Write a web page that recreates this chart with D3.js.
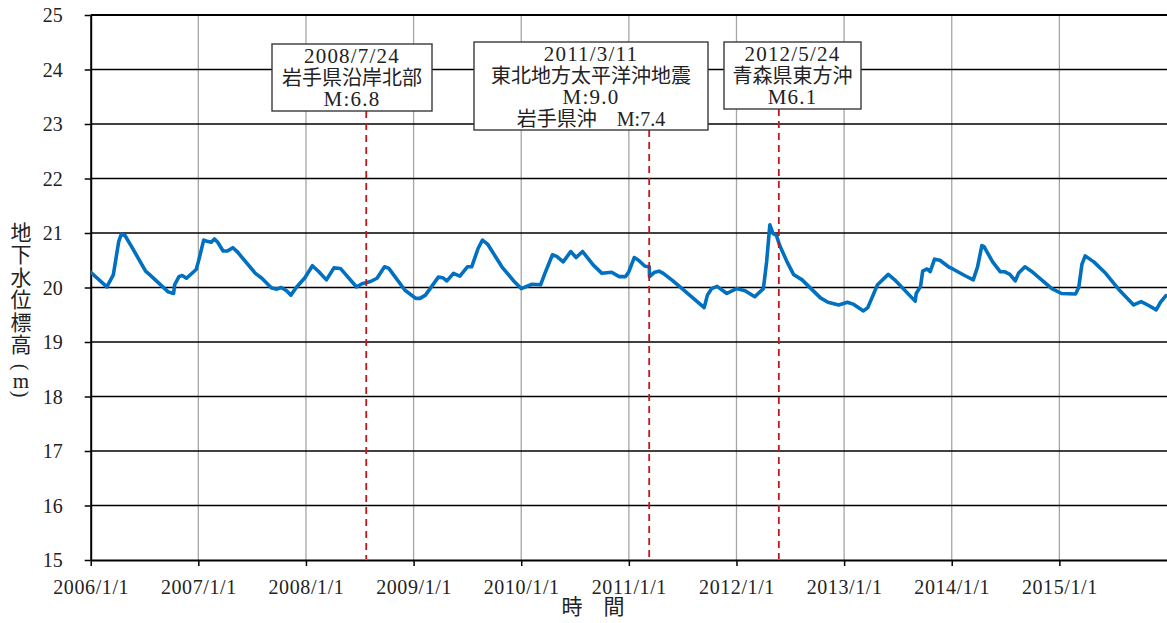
<!DOCTYPE html>
<html><head><meta charset="utf-8">
<script src="https://cdn.jsdelivr.net/npm/d3@7"></script>
<style>
html,body{margin:0;padding:0;background:#fff;overflow:hidden}
svg{display:block}
</style></head>
<body><svg id="chart" width="1167" height="623"></svg>
<script>
// ---- data (decimal year, groundwater level in m) ----
const years = [2006.00,2006.15,2006.21,2006.26,2006.285,2006.32,2006.38,2006.51,2006.55,2006.72,2006.77,2006.78,2006.82,2006.85,2006.89,2006.98,
2007.00,2007.05,2007.08,2007.12,2007.15,2007.18,2007.23,2007.27,2007.32,2007.36,2007.53,2007.59,2007.68,2007.73,2007.77,2007.82,2007.86,2007.91,2007.99,
2008.06,2008.12,2008.19,2008.26,2008.32,2008.47,2008.52,2008.60,2008.66,2008.73,2008.77,2008.92,
2009.02,2009.06,2009.11,2009.23,2009.27,2009.31,2009.37,2009.43,2009.50,2009.54,2009.60,2009.64,2009.69,2009.82,2009.93,
2010.00,2010.10,2010.18,2010.22,2010.29,2010.33,2010.39,2010.46,2010.51,2010.57,2010.67,2010.75,2010.84,2010.91,2010.97,
2011.00,2011.05,2011.09,2011.15,2011.19,2011.192,2011.24,2011.28,2011.32,2011.41,2011.47,2011.70,2011.73,2011.77,2011.82,2011.91,
2012.00,2012.08,2012.17,2012.25,2012.28,2012.31,2012.34,2012.37,2012.40,2012.47,2012.53,2012.61,2012.78,2012.85,2012.95,
2013.03,2013.09,2013.18,2013.22,2013.31,2013.41,2013.47,2013.66,2013.67,2013.71,2013.73,2013.77,2013.80,2013.84,2013.89,2013.97,
2014.01,2014.12,2014.20,2014.24,2014.28,2014.30,2014.38,2014.45,2014.49,2014.54,2014.59,2014.62,2014.68,2014.74,2014.93,
2015.02,2015.15,2015.18,2015.21,2015.24,2015.32,2015.43,2015.55,2015.69,2015.76,2015.83,2015.90,2015.94,2015.99];
const levels = [20.28,20.01,20.23,20.84,20.98,20.95,20.75,20.30,20.23,19.92,19.89,20.05,20.20,20.22,20.17,20.33,
20.47,20.87,20.85,20.83,20.89,20.83,20.67,20.67,20.73,20.66,20.26,20.17,19.99,19.97,20.00,19.94,19.86,20.00,20.18,
20.40,20.29,20.14,20.36,20.35,20.01,20.07,20.11,20.17,20.38,20.35,19.95,
19.80,19.80,19.86,20.19,20.18,20.12,20.26,20.21,20.38,20.38,20.72,20.87,20.79,20.38,20.12,
19.98,20.06,20.05,20.26,20.60,20.57,20.47,20.66,20.55,20.66,20.41,20.26,20.28,20.20,20.20,
20.29,20.55,20.50,20.39,20.38,20.20,20.28,20.30,20.26,20.12,20.02,19.63,19.86,19.98,20.02,19.89,
19.98,19.94,19.83,19.98,20.47,21.15,20.99,20.96,20.78,20.47,20.24,20.14,19.81,19.73,19.68,
19.73,19.69,19.57,19.63,20.05,20.24,20.14,19.75,19.89,20.02,20.30,20.34,20.29,20.52,20.50,20.38,
20.34,20.22,20.14,20.38,20.77,20.75,20.47,20.29,20.29,20.24,20.12,20.26,20.38,20.30,19.98,
19.89,19.88,20.00,20.43,20.58,20.47,20.26,19.97,19.68,19.74,19.67,19.59,19.73,19.85];

const xTickYears = [2006,2007,2008,2009,2010,2011,2012,2013,2014,2015];
const xTickLabels = ["2006/1/1","2007/1/1","2008/1/1","2009/1/1","2010/1/1","2011/1/1","2012/1/1","2013/1/1","2014/1/1","2015/1/1"];
const yTicks = [15,16,17,18,19,20,21,22,23,24,25];

const eventDates = ["2008-07-24","2011-03-11","2012-05-24"];
const eventTexts = [
  ["2008/7/24","岩手県沿岸北部","M:6.8"],
  ["2011/3/11","東北地方太平洋沖地震","M:9.0","岩手県沖　M:7.4"],
  ["2012/5/24","青森県東方沖","M6.1"]
];
const yTitle = ["地","下","水","位","標","高"];
const xTitle = "時　間";

// ---- layout ----
const L = 90.7, R = 1167, T = 15, B = 560;
const boxLayout = [
  {x0:272, x1:432, y0:44, y1:111},
  {x0:474, x1:708, y0:42, y1:130},
  {x0:724, x1:861, y0:42, y1:109}
];
const LAT = "'Liberation Serif','Noto Sans CJK JP',serif";

const svg = d3.select("#chart");
const x = d3.scaleLinear().domain([2006, 2016]).range([L, R]);
const y = d3.scaleLinear().domain([15, 25]).range([B, T]);

function decYear(s){
  const d = new Date(s + "T00:00:00");
  const yr = d.getFullYear();
  const start = new Date(yr,0,1), end = new Date(yr+1,0,1);
  return yr + (d - start)/(end - start);
}

// vertical gridlines
svg.append("g").selectAll("line").data(xTickYears.slice(1)).join("line")
  .attr("x1", d=>x(d)).attr("x2", d=>x(d)).attr("y1", T).attr("y2", B)
  .attr("stroke", "#a6a6a6").attr("stroke-width", 1.3);

// horizontal gridlines
svg.append("g").selectAll("line").data(yTicks.slice(1)).join("line")
  .attr("x1", L).attr("x2", R).attr("y1", d=>y(d)).attr("y2", d=>y(d))
  .attr("stroke", "#000").attr("stroke-width", d => d===25 ? 2 : 1.3);

// axes
const xAxis = d3.axisBottom(x).tickValues(xTickYears).tickFormat((d,i)=>xTickLabels[i]).tickSize(6).tickSizeOuter(0);
const gx = svg.append("g").attr("transform", `translate(0,${B})`).call(xAxis);
gx.select(".domain").attr("stroke","#000").attr("stroke-width",2);
gx.selectAll(".tick line").attr("stroke","#000").attr("stroke-width",1.5);
gx.selectAll(".tick text").attr("font-family", LAT).attr("font-size", 20).attr("fill","#222")
  .attr("letter-spacing", 0.6).attr("y", 20).attr("dy", "0.71em");

const yAxis = d3.axisLeft(y).tickValues(yTicks).tickSize(6).tickSizeOuter(0);
const gy = svg.append("g").attr("transform", `translate(${L},0)`).call(yAxis);
gy.select(".domain").attr("stroke","#000").attr("stroke-width",2);
gy.selectAll(".tick line").attr("stroke","#000").attr("stroke-width",1.5);
gy.selectAll(".tick text").attr("font-family", LAT).attr("font-size", 20).attr("fill","#222")
  .attr("x", -28).attr("dy","0.34em");

// data line
svg.append("clipPath").attr("id","clip").append("rect").attr("x",L).attr("y",T).attr("width",R-L).attr("height",B-T);
const pts = years.map((yr,i)=>[yr, levels[i]]);
svg.append("path").datum(pts)
  .attr("clip-path","url(#clip)")
  .attr("d", d3.line().x(d=>x(d[0])).y(d=>y(d[1])))
  .attr("fill","none").attr("stroke","#0070c0").attr("stroke-width",3.6)
  .attr("stroke-linejoin","round").attr("stroke-linecap","round");

// events
eventDates.forEach((ds,i)=>{
  const ex = x(decYear(ds));
  const b = boxLayout[i];
  svg.append("line").attr("x1",ex).attr("x2",ex).attr("y1",b.y1).attr("y2",B-1)
    .attr("stroke","#c0161d").attr("stroke-width",1.8).attr("stroke-dasharray","7,5");
  svg.append("rect").attr("x",b.x0).attr("y",b.y0).attr("width",b.x1-b.x0).attr("height",b.y1-b.y0)
    .attr("fill","#fff").attr("stroke","#3a3a3a").attr("stroke-width",1.4);
  const cx = (b.x0+b.x1)/2;
  eventTexts[i].forEach((t,j)=>{
    const latinOnly = /^[\x20-\x7e]+$/.test(t);
    svg.append("text").attr("x",cx).attr("y", b.y0 + 12 + j*21.7)
      .attr("text-anchor","middle").attr("dominant-baseline","central")
      .attr("font-family", LAT).attr("font-size", latinOnly ? 21 : 20)
      .attr("letter-spacing", latinOnly ? 1.2 : 0)
      .attr("fill","#222").text(t);
  });
});

// y axis title (vertical)
const yt = svg.append("g").attr("font-family", LAT).attr("fill","#222");
yTitle.forEach((c,i)=>{
  yt.append("text").attr("x",21).attr("y",233 + i*22.4).attr("text-anchor","middle")
    .attr("dominant-baseline","central").attr("font-size",21).text(c);
});
yt.append("text").attr("transform","translate(21,367) rotate(90)").attr("text-anchor","middle")
  .attr("dominant-baseline","central").attr("font-size",20).text("(");
yt.append("text").attr("x",21).attr("y",381).attr("text-anchor","middle")
  .attr("dominant-baseline","central").attr("font-size",21).text("m");
yt.append("text").attr("transform","translate(21,394) rotate(90)").attr("text-anchor","middle")
  .attr("dominant-baseline","central").attr("font-size",20).text(")");

// x axis title
svg.append("text").attr("x",593).attr("y",607).attr("text-anchor","middle")
  .attr("dominant-baseline","central").attr("font-family",LAT).attr("font-size",21)
  .attr("fill","#222").text(xTitle);
</script>
</body></html>
